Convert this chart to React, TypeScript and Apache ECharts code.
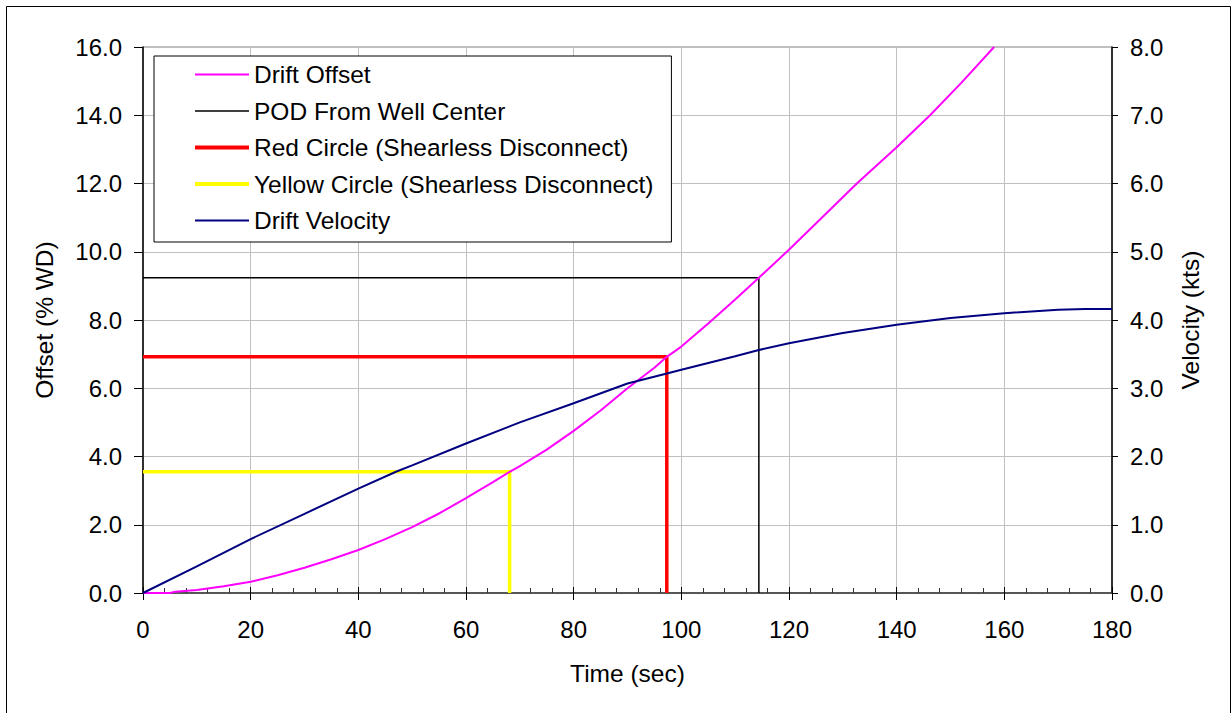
import React, { useEffect, useRef } from "react";
import * as echarts from "echarts";

const offsetTime = [0, 5, 6, 10, 15, 20, 25, 30, 35, 40, 45, 50, 55, 60, 65, 68.1, 70, 75, 80, 85, 90, 95, 97.3, 100, 105, 110, 114.4, 119.6, 125, 132.6, 140, 146.2, 152, 158.1];
const offsetValues = [0, 0, 0.04, 0.09, 0.2, 0.33, 0.52, 0.74, 0.99, 1.26, 1.58, 1.93, 2.33, 2.78, 3.25, 3.55, 3.72, 4.2, 4.75, 5.35, 6.0, 6.6, 6.92, 7.22, 7.9, 8.6, 9.24, 10.0, 10.83, 12.0, 13.06, 14.0, 14.95, 16.0];

const velocityTime = [0, 10, 20, 30, 40, 47.1, 50, 60, 70, 80, 90, 97.5, 100, 110, 114.4, 120, 130, 140, 150, 160, 170, 175, 180];
const velocityValues = [0, 0.39, 0.79, 1.16, 1.53, 1.78, 1.87, 2.19, 2.5, 2.78, 3.07, 3.22, 3.27, 3.47, 3.56, 3.66, 3.81, 3.93, 4.03, 4.1, 4.15, 4.16, 4.16];

const podTime = [0, 114.4, 114.4];
const podValues = [9.24, 9.24, 0];
const redTime = [0, 97.3, 97.3];
const redValues = [6.92, 6.92, 0];
const yellowTime = [0, 68.1, 68.1];
const yellowValues = [3.55, 3.55, 0];

const seriesNames = [
  "Drift Offset",
  "POD From Well Center",
  "Red Circle (Shearless Disconnect)",
  "Yellow Circle (Shearless Disconnect)",
  "Drift Velocity",
];
const seriesColors = ["#ff00ff", "#000000", "#ff0000", "#ffff00", "#000080"];
const seriesWidths = [2, 1.5, 3.5, 3.5, 2];
const legendWidths = [2, 1.5, 4, 4, 2];
const seriesAxis = [0, 0, 0, 0, 1];
const seriesZ = [4, 3, 3, 3, 4];

const pairs = (xs: number[], ys: number[]) => xs.map((x, i) => [x, ys[i]]);
const seriesData = [
  pairs(offsetTime, offsetValues),
  pairs(podTime, podValues),
  pairs(redTime, redValues),
  pairs(yellowTime, yellowValues),
  pairs(velocityTime, velocityValues),
];

const FONT = "Liberation Sans, Arial, sans-serif";

export default function App() {
  const ref = useRef<HTMLDivElement>(null);
  useEffect(() => {
    if (!ref.current) return;
    const chart = echarts.init(ref.current, null, { renderer: "svg" });
    const txt = { color: "#000", fontFamily: FONT, fontSize: 24 };
    chart.setOption({
      animation: false,
      backgroundColor: "#fff",
      textStyle: { fontFamily: FONT, color: "#000" },
      grid: {
        left: 143,
        right: 120,
        top: 47,
        bottom: 120,
        show: true,
        borderColor: "#808080",
        borderWidth: 1,
      },
      legend: {
        data: seriesNames.map((n, i) => ({
          name: n,
          lineStyle: { width: legendWidths[i], color: seriesColors[i] },
        })),
        orient: "vertical",
        left: 154,
        top: 56,
        padding: [6, 18, 9, 39],
        itemWidth: 54,
        itemHeight: 14,
        itemGap: 11.5,
        backgroundColor: "#fff",
        borderColor: "#000",
        borderWidth: 1,
        borderRadius: 0,
        itemStyle: { opacity: 0, borderWidth: 0 },
        textStyle: { ...txt, fontSize: 24.5 },
        z: 10,
      },
      xAxis: [
        {
          type: "value",
          min: 0,
          max: 180,
          interval: 20,
          name: "Time (sec)",
          nameLocation: "middle",
          nameGap: 68,
          nameTextStyle: { ...txt, fontSize: 24.5 },
          axisLine: { show: true, onZero: false, lineStyle: { color: "#333", width: 1.5 } },
          axisTick: { show: true, inside: true, length: 6, lineStyle: { color: "#000" } },
          minorTick: { show: true, splitNumber: 5, length: 5, lineStyle: { color: "#333" } },
          axisLabel: { ...txt, margin: 24 },
          splitLine: { show: true, lineStyle: { color: "#c0c0c0", width: 1 } },
        },
        {
          type: "value",
          min: 0,
          max: 180,
          interval: 20,
          position: "bottom",
          axisLine: { show: false },
          axisTick: { show: true, inside: false, length: 7, lineStyle: { color: "#000" } },
          axisLabel: { show: false },
          splitLine: { show: false },
        },
      ],
      yAxis: [
        {
          type: "value",
          min: 0,
          max: 16,
          interval: 2,
          position: "left",
          name: "Offset (% WD)",
          nameLocation: "middle",
          nameGap: 86,
          nameTextStyle: { ...txt, fontSize: 24.5 },
          axisLine: { show: true, onZero: false, lineStyle: { color: "#000", width: 1.5 } },
          axisTick: { show: true, inside: false, length: 9, lineStyle: { color: "#000" } },
          axisLabel: { ...txt, margin: 21, formatter: (v: number) => v.toFixed(1) },
          splitLine: { show: true, lineStyle: { color: "#c0c0c0", width: 1 } },
        },
        {
          type: "value",
          min: 0,
          max: 8,
          interval: 1,
          position: "right",
          name: "Velocity (kts)",
          nameLocation: "middle",
          nameGap: 66,
          nameTextStyle: { ...txt, fontSize: 24.5 },
          axisLine: { show: true, onZero: false, lineStyle: { color: "#000", width: 1.5 } },
          axisTick: { show: true, inside: false, length: 6, lineStyle: { color: "#000" } },
          axisLabel: { ...txt, margin: 18, formatter: (v: number) => v.toFixed(1) },
          splitLine: { show: false },
        },
        {
          type: "value",
          min: 0,
          max: 8,
          interval: 1,
          position: "right",
          axisLine: { show: false },
          axisTick: { show: true, inside: true, length: 8, lineStyle: { color: "#000" } },
          axisLabel: { show: false },
          splitLine: { show: false },
        },
      ],
      series: seriesNames.map((n, i) => ({
        name: n,
        type: "line",
        xAxisIndex: 0,
        yAxisIndex: seriesAxis[i],
        symbol: "none",
        data: seriesData[i],
        lineStyle: { color: seriesColors[i], width: seriesWidths[i] },
        itemStyle: { color: seriesColors[i] },
        z: seriesZ[i],
      })),
      graphic: [
        {
          type: "rect",
          shape: { x: 6.5, y: 6.5, width: 1224, height: 720 },
          style: { fill: "none", stroke: "#000", lineWidth: 1 },
          silent: true,
          z: 100,
        },
      ],
    });
    return () => chart.dispose();
  }, []);
  return (
    <div
      ref={ref}
      style={{ position: "absolute", left: 0, top: 0, width: 1232, height: 713 }}
    />
  );
}
